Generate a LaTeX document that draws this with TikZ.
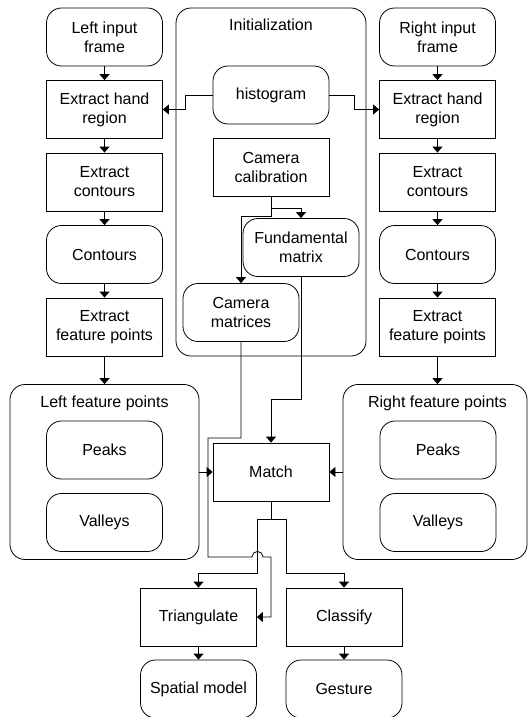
\documentclass[tikz,border=0pt]{standalone}
\usepackage{fontspec}
\setmainfont{Liberation Sans}
\usetikzlibrary{arrows.meta}

\tikzset{
    blk/.style={draw, line width=0.8pt, minimum width=116pt, minimum height=58pt, inner sep=2pt, align=center, font=\fontsize{16}{19}\selectfont},
    rblk/.style={blk, rounded corners=15pt},
    grp/.style={draw, line width=0.8pt, rounded corners=15pt},
    lbl/.style={font=\fontsize{16}{19}\selectfont},
    arr/.style={line width=0.8pt, -{Triangle[width=10pt,length=6pt]}}
}

\begin{document}
\begin{tikzpicture}[x=1pt,y=-1pt]
        \useasboundingbox (0,0) rectangle (528,717);

        % initialization
        \node[grp, minimum width=190, minimum height=348] (init) at (271,182) {};
        \node[lbl] (init-txt) at (271,25) {Initialization};
        \node[rblk] (hist) at (271,95) {histogram};
        \node[blk] (calib) at (271,167.5) {Camera\\calibration};
        \node[rblk] (fund) at (301,247.5) {Fundamental\\matrix};
        \node[rblk] (cam) at (241,312.5) {Camera\\matrices};

        % left and right columns
        \foreach \s/\x/\side in {l/104.5/Left, r/437.5/Right} {
            \node[rblk] (\s-in) at (\x,37) {\side{} input\\frame};
            \node[blk] (\s-hand) at (\x,109.5) {Extract hand\\region};
            \node[blk] (\s-ext) at (\x,182) {Extract\\contours};
            \node[rblk] (\s-con) at (\x,254.5) {Contours};
            \node[blk] (\s-fp) at (\x,327) {Extract\\feature points};
            \draw[arr] (\s-in) -- (\s-hand);
            \draw[arr] (\s-hand) -- (\s-ext);
            \draw[arr] (\s-ext) -- (\s-con);
            \draw[arr] (\s-con) -- (\s-fp);
        }

        % feature points
        \node[grp, minimum width=189, minimum height=175] (lfp) at (104.5,472) {};
        \node[grp, minimum width=184, minimum height=175] (rfp) at (435,472) {};
        \node[lbl] (lfp-txt) at (104.5,403) {Left feature points};
        \node[lbl] (rfp-txt) at (437.5,403) {Right feature points};
        \node[rblk] (l-peaks) at (104.5,450) {Peaks};
        \node[rblk] (l-valleys) at (104.5,522.5) {Valleys};
        \node[rblk] (r-peaks) at (438,450) {Peaks};
        \node[rblk] (r-valleys) at (438,522.5) {Valleys};

        \node[blk] (match) at (271,472) {Match};
        \node[blk] (tri) at (198.5,617) {Triangulate};
        \node[rblk] (spatial) at (198.5,689) {Spatial model};
        \node[blk] (cls) at (344,617) {Classify};
        \node[rblk] (gest) at (344,689) {Gesture};

        \draw[arr] (hist.west) -- ++(-27,0) |- (l-hand.east);
        \draw[arr] (hist.east) -- ++(25,0) |- (r-hand.west);
        \draw[arr] (calib.south) -- ++(0,11) -| (fund.north);
        \draw[arr] (calib.south) -- ++(0,19) -| (cam.north);
        \draw[arr] (fund.south) -- ++(0,122) -| (match.north);
        \draw[arr] (cam.south) -- ++(0,96) -- ++(-33,0) -- ++(0,119) -- ++(44,0)
            arc[start angle=180, end angle=360, radius=5.5] -- ++(8,0) |- (tri.east);

        \draw[arr] (l-fp) -- (lfp);
        \draw[arr] (r-fp.south) -- (r-fp.south |- rfp.north);
        \draw[arr] (lfp) -- (match);
        \draw[arr] (rfp) -- (match);

        \draw[arr] (match.south) -- ++(0,18) -- ++(-13.5,0) -- ++(0,54) -| (tri.north);
        \draw[arr] (match.south) -- ++(0,18) -- ++(15,0) -- ++(0,54) -| (cls.north);
        \draw[arr] (tri) -- (spatial);
        \draw[arr] (cls) -- (gest);
    \end{tikzpicture}
\end{document}
